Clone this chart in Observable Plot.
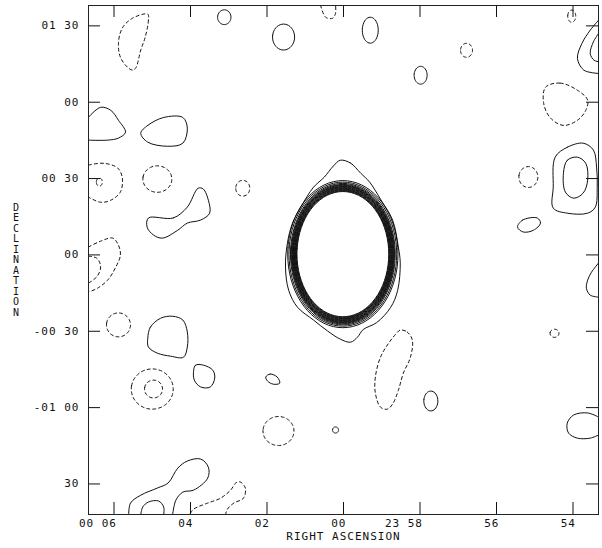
<!DOCTYPE html>
<html><head><meta charset="utf-8">
<script src="https://cdn.jsdelivr.net/npm/d3@7"></script>
<script src="https://cdn.jsdelivr.net/npm/@observablehq/plot@0.6"></script>
<style>body{margin:0;background:#fff}</style>
</head><body><div id="chart"></div>
<script>
// Axes: x = right ascension offset from 00h00m (seconds of time), y = declination (arcmin)
const xTicks = [360, 240, 120, 0, -120, -240, -360];
const xTickLabels = ["00 06", "04", "02", "00", "23 58", "56", "54"];
const yTicks = [90, 60, 30, 0, -30, -60, -90];
const yTickLabels = ["01 30", "00", "00 30", "00", "-00 30", "-01 00", "30"];

// Traced contours [ra s, dec arcmin]
// positive (solid), closed
const P5  = [[318,47.8],[307,50.9],[282,54],[252,54],[245,49.8],[252,43.9],[276,42.7],[307,44.3]];
const P9  = [[306,14.5],[267,14.5],[245,18.8],[228,26.2],[220,25.9],[212,21.5],[210,16.4],[224,13.7],[245,12.5],[260,9.7],[284,6.6],[298,7.8],[308,10.9]];
const P17o = [[-332,38.4],[-351,42.3],[-376,43.9],[-392,41.2],[-397,34.5],[-398,26.6],[-395,18.8],[-383,16.4],[-351,16.4],[-329,18.4],[-329,26.6]];
const P17i = [[-345,32.1],[-351,37.2],[-367,38.4],[-380,36],[-383,29.4],[-376,24.3],[-361,22.3],[-348,24.7]];
const P19 = [[-273,10.9],[-281,13.7],[-304,14.5],[-309,12.5],[-298,9.7],[-282,9]];
const P22 = [[307,-32.7],[303,-28.4],[287,-24.9],[268,-24.1],[252,-25.6],[245,-30.3],[245,-36.2],[251,-40.2],[271,-39.8],[292,-38.6],[306,-36.2]];
const P23 = [[235,-45.3],[232,-43.3],[220,-43.3],[205,-45.3],[202,-48.4],[209,-51.9],[224,-51.9],[234,-49.2]];
const P25 = [[122,-48],[115,-46.8],[104,-48],[100,-50.4],[110,-50.8],[119,-49.6]];
const C1  = [[5,37.2],[-11,36.1],[-27,32.1],[-41,28.6],[-58,21.9],[-77,13.7],[-86,3.1],[-89,-3.2],[-85,-13.9],[-74,-20.6],[-52,-26.6],[-31,-29.3],[-22,-32.3],[-11,-34.3],[5,-33.1],[25,-29.9],[47,-25.6],[72,-20.6],[86,-13.9],[91,-4.8],[88,4.6],[80,12.5],[67,18.8],[47,26.6],[30,30.6],[16,34.9]];
// negative (dashed), closed
const P1  = [[307,94.6],[306,92.2],[311,85.6],[318,80.5],[326,73.4],[331,72.6],[339,73.8],[350,77.7],[353,83.2],[347,89.1],[331,93]];
const P16 = [[-317,65.9],[-340,67.5],[-367,64.7],[-383,60.8],[-380,56.8],[-367,52.9],[-345,50.9],[-325,53.7],[-314,59.6]];
const P29 = [[-89,-29.5],[-100,-30.3],[-108,-33.5],[-105,-40.2],[-94,-46.4],[-86,-53.2],[-78,-58.2],[-69,-60.6],[-58,-59.8],[-50,-54.3],[-50,-48],[-58,-40.2],[-71,-34.6],[-85,-30.3]];
// positive, open (leaving the map)
const P4  = [[400,54.1],[381,58],[365,56.8],[353,52.9],[342,48.2],[353,45.9],[370,45.1],[400,45.1]];
const P15o = [[-400,92.2],[-387,88.3],[-374,83.1],[-367,77.2],[-377,72.6],[-400,71.3]];
const P15i = [[-400,87],[-392,83.7],[-387,79.1],[-393,76.5],[-400,75.9]];
const P20 = [[-400,-3.2],[-389,-6.8],[-383,-9.9],[-381,-13.1],[-387,-15.8],[-400,-16.6]];
const P27o = [[337,-102],[334,-97.5],[318,-94.4],[292,-91.6],[275,-89.6],[260,-83.8],[245,-81],[224,-80.2],[212,-83.4],[213,-87.7],[235,-92.4],[252,-93.2],[263,-96.4],[268,-102]];
const P27i = [[318,-102],[315,-99.1],[306,-97.1],[290,-96.7],[282,-99.1],[282,-102]];
const P32 = [[-400,-63.7],[-383,-62.1],[-361,-62.9],[-351,-66.1],[-353,-70],[-367,-72],[-387,-72],[-400,-70.8]];
// negative, open
const P6  = [[400,35.3],[376,36],[354,34.1],[347,30.2],[350,24.7],[365,21.5],[381,20.7],[400,22.7]];
const P10 = [[400,3.1],[381,5.4],[362,6.6],[353,3.8],[350,-0.1],[358,-5.2],[370,-9.9],[386,-13.1],[400,-14.6]];
const P10i = [[400,-0.5],[387,-1.3],[381,-4.4],[386,-8.3],[400,-11.1]];
const P11 = [[36,98.1],[28,93.4],[17,93],[12.5,94.9],[12.5,98.1]];
const P28 = [[240,-101.5],[235,-99.9],[213,-97.5],[193,-95.6],[177,-92.4],[169,-89.6],[162,-89.2],[154,-91.6],[157,-95.6],[172,-97.5],[182,-99.9],[185,-102]];

// Small oval contours: [ra, dec, semi-axis ra (s), semi-axis dec ('), sign]
const blobs = [
  [187, 93.4, 10.5, 2.9, 1], [94, 85.6, 17.3, 5.1, 1], [-42, 88.3, 12.5, 5.1, 1],
  [-121, 70.6, 10.2, 3.5, 1], [-137, -57.4, 11, 3.9, 1], [12.5, -68.8, 4.7, 1.2, 1],
  [383, 28.6, 4.7, 1.6, -1], [292, 29.8, 22.7, 5.2, -1], [158, 26.2, 11, 3.1, -1],
  [-193, 80.4, 9.4, 2.75, -1], [-358, 93.8, 6.3, 2.4, -1], [-290, 30.6, 14.9, 4.1, -1],
  [353, -27.5, 18.8, 4.7, -1], [300, -52.7, 32.9, 7.9, -1], [298, -52.7, 14.1, 3.5, -1],
  [102, -69.2, 24.3, 5.7, -1], [-331, -30.8, 7, 1.6, -1]
];

// Central source: nested contour rings (semi-axes)
const ringA = [72, 72.8, 73.6, 74.4, 75.2, 76, 76.8, 77.6, 78.4, 79.2, 80, 81, 82.2, 84.5, 86.5];
const ringB = [24.6, 24.85, 25.1, 25.35, 25.6, 25.85, 26.1, 26.35, 26.6, 26.85, 27.1, 27.4, 27.8, 28.3, 28.9];
const ringCenter = [1, 0.3];

function ellipse(cx, cy, a, b, n = 72) {
  return d3.range(n).map(i => {
    const t = 2 * Math.PI * i / n;
    return [cx + a * Math.cos(t), cy + b * Math.sin(t)];
  });
}

const groups = { posClosed: [], negClosed: [], posOpen: [], negOpen: [] };
let id = 0;
function add(key, pts) { const k = id++; pts.forEach(([ra, dec]) => groups[key].push({ra, dec, id: k})); }
[P5, P9, P17o, P17i, P19, P22, P23, P25, C1].forEach(p => add("posClosed", p));
[P1, P16, P29].forEach(p => add("negClosed", p));
[P4, P15o, P15i, P20, P27o, P27i, P32].forEach(p => add("posOpen", p));
[P6, P10, P10i, P11, P28].forEach(p => add("negOpen", p));
blobs.forEach(([ra, dec, a, b, s]) => add(s > 0 ? "posClosed" : "negClosed", ellipse(ra, dec, a, b, 40)));
ringA.forEach((a, i) => add("posClosed", ellipse(ringCenter[0], ringCenter[1], a, ringB[i])));

const W = 602, H = 548, mL = 88, mR = 4, mT = 5, mB = 34;
const innerW = W - mL - mR, innerH = H - mT - mB, tick = 12;
const font = {fontFamily: "DejaVu Sans Mono", fontSize: 11, fill: "#111"};

const lineOpts = (curve, dash) => ({x: "ra", y: "dec", z: "id", curve, stroke: "#111", strokeWidth: 1, strokeDasharray: dash, clip: true});

const chart = Plot.plot({
  width: W, height: H,
  marginLeft: mL, marginRight: mR, marginTop: mT, marginBottom: mB,
  style: {letterSpacing: "1px", background: "#fff"},
  x: {domain: [400, -400], axis: null},
  y: {domain: [-102, 98], axis: null},
  marks: [
    Plot.line(groups.posClosed, lineOpts("catmull-rom-closed", null)),
    Plot.line(groups.negClosed, lineOpts("catmull-rom-closed", "3,3")),
    Plot.line(groups.posOpen, lineOpts("catmull-rom", null)),
    Plot.line(groups.negOpen, lineOpts("catmull-rom", "3,3")),
    Plot.tickX(xTicks, {x: d => d, insetBottom: innerH - tick, stroke: "#111"}),
    Plot.tickX(xTicks, {x: d => d, insetTop: innerH - tick, stroke: "#111"}),
    Plot.tickY(yTicks, {y: d => d, insetRight: innerW - tick, stroke: "#111"}),
    Plot.tickY(yTicks, {y: d => d, insetLeft: innerW - tick, stroke: "#111"}),
    Plot.frame({stroke: "#222"}),
    Plot.text(xTicks, {x: d => d, text: (d, i) => xTickLabels[i], frameAnchor: "bottom", dy: 12.5, dx: 3, textAnchor: "end", ...font}),
    Plot.text(yTicks, {y: d => d, text: (d, i) => yTickLabels[i], frameAnchor: "left", dx: -9, textAnchor: "end", ...font}),
    Plot.text(["RIGHT ASCENSION"], {frameAnchor: "bottom", dy: 25, ...font}),
    Plot.text(["D\nE\nC\nL\nI\nN\nA\nT\nI\nO\nN"], {frameAnchor: "left", dx: -72, lineHeight: 1.05, textAnchor: "middle", ...font, fontSize: 10})
  ]
});
document.getElementById("chart").appendChild(chart);
</script>
</body></html>
